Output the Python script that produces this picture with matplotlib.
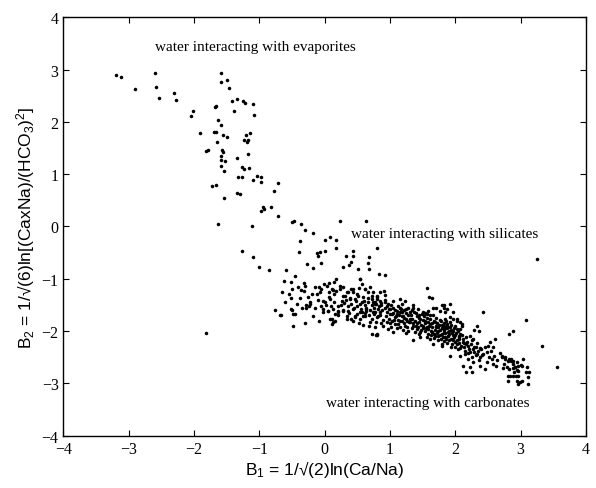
import numpy as np
import matplotlib
matplotlib.use("Agg")
import matplotlib.pyplot as plt

# pontos (B1, B2)
# ramo superior - agua com evaporitos
evaporitos = [
    (-3.20, 2.90), (-3.12, 2.86), (-2.60, 2.93), (-2.90, 2.62), (-2.59, 2.66),
    (-2.53, 2.46), (-2.31, 2.56), (-2.27, 2.41), (-2.01, 2.20), (-2.05, 2.12),
    (-1.91, 1.78), (-1.68, 2.28), (-1.66, 2.31), (-1.58, 2.93), (-1.49, 2.81),
    (-1.59, 2.76), (-1.47, 2.65), (-1.42, 2.39), (-1.35, 2.43), (-1.25, 2.40),
    (-1.22, 2.37), (-1.09, 2.34), (-1.08, 2.13), (-1.39, 2.20), (-1.64, 2.03),
    (-1.59, 1.94), (-1.69, 1.81), (-1.66, 1.81), (-1.55, 1.75), (-1.49, 1.71),
    (-1.65, 1.62), (-1.21, 1.74), (-1.14, 1.79), (-1.24, 1.65), (-1.19, 1.62),
    (-1.18, 1.65), (-1.81, 1.45), (-1.78, 1.46), (-1.57, 1.47), (-1.55, 1.43),
    (-1.59, 1.35), (-1.58, 1.28), (-1.52, 1.25), (-1.59, 1.15), (-1.54, 1.07),
    (-1.35, 1.30), (-1.18, 1.39), (-1.26, 1.14), (-1.24, 1.10), (-1.16, 1.12),
    (-1.33, 0.95), (-1.26, 0.95), (-1.04, 0.97), (-1.09, 0.89), (-0.97, 0.94),
    (-0.97, 0.85), (-0.71, 0.83), (-0.77, 0.68), (-1.73, 0.78), (-1.67, 0.79),
    (-1.54, 0.55), (-1.35, 0.64), (-1.30, 0.62), (-0.95, 0.37), (-0.97, 0.30),
    (-0.93, 0.33), (-0.82, 0.38), (-0.71, 0.20), (-1.63, 0.05), (-1.12, 0.00),
]

# zona de transicao - agua com silicatos
silicatos = [
    (-0.50, 0.09), (-0.47, 0.11), (-0.37, 0.04), (-0.30, -0.07), (-0.18, -0.13),
    (0.24, 0.11), (0.64, 0.10), (-0.38, -0.27), (0.01, -0.26), (0.08, -0.21),
    (0.17, -0.26), (-0.39, -0.49), (-0.11, -0.50), (-0.07, -0.48), (-0.10, -0.56),
    (0.01, -0.46), (0.18, -0.42), (0.43, -0.47), (0.33, -0.57), (0.80, -0.42),
    (-1.26, -0.46), (-1.10, -0.59), (-1.01, -0.77), (-0.86, -0.83), (-0.59, -0.83),
    (-0.27, -0.72), (-0.18, -0.79), (-0.05, -0.70), (0.28, -0.77), (0.37, -0.73),
    (0.40, -0.68), (0.51, -0.81), (0.68, -0.58), (0.66, -0.69), (0.68, -0.82),
    (-1.81, -2.04), (-0.46, -0.94), (-0.51, -1.07), (-0.50, -1.20), (-0.41, -1.15),
    (-0.36, -1.21), (-0.32, -1.08), (-0.30, -1.13), (-0.51, -1.37), (-0.38, -1.37),
    (-0.31, -1.23), (-0.76, -1.60), (-0.69, -1.69), (-0.50, -1.59), (-0.45, -1.68),
    (-0.49, -1.90), (0.83, -0.91), (0.92, -0.93), (0.43, -0.56), (3.25, -0.62),
    (-0.25, -1.35), (-0.23, -1.45), (-0.28, -1.55), (-0.24, -1.52), (-0.67, -1.69),
    (-0.18, -1.72), (-0.08, -1.80), (-0.15, -1.16), (-0.08, -1.16), (-0.48, -1.67),
    (-0.51, -1.58), (-0.28, -1.51), (-0.23, -1.48), (-0.12, -1.29), (-0.05, -1.20),
    (-0.65, -1.25), (-0.60, -1.45), (-0.55, -1.30), (-0.42, -1.48), (-0.35, -1.55),
    (-0.20, -1.30), (-0.15, -1.55), (-0.10, -1.40), (-0.05, -1.52), (-0.62, -1.05),
    (-0.30, -1.85),
]

# faixa densa - agua com carbonatos
carbonatos = [
    (-0.01, -1.10), (0.07, -1.08), (0.14, -1.07), (-0.07, -1.26), (-0.03, -1.42),
    (0.00, -1.45), (0.08, -1.39), (0.07, -1.26), (0.12, -1.21), (0.18, -1.23),
    (0.23, -1.20), (0.28, -1.16), (0.36, -1.26), (0.40, -1.20), (0.44, -1.25),
    (0.54, -1.00), (0.57, -1.10), (0.53, -1.18), (-0.02, -1.58), (0.05, -1.62),
    (0.13, -1.57), (0.21, -1.63), (0.28, -1.59), (0.36, -1.62), (0.44, -1.58),
    (0.08, -1.77), (0.16, -1.80), (0.12, -1.83), (0.34, -1.77), (0.43, -1.80),
    (0.46, -1.74), (0.54, -1.77), (0.58, -1.71), (0.68, -1.91), (0.72, -2.06),
    (0.80, -2.08), (0.26, -1.42), (0.31, -1.32), (0.39, -1.37), (0.46, -1.38),
    (0.51, -1.32), (0.59, -1.35), (0.62, -1.20), (0.67, -1.26), (0.69, -1.16),
    (0.74, -1.26), (0.80, -1.32), (0.85, -1.26), (0.54, -1.48), (0.62, -1.51),
    (0.67, -1.45), (0.72, -1.51), (0.77, -1.48), (0.82, -1.58), (0.64, -1.61),
    (0.74, -1.64), (0.82, -1.71), (0.57, -1.63), (0.50, -1.67), (1.56, -1.18),
    (1.60, -1.34), (1.64, -1.37), (1.15, -1.39), (1.23, -1.43), (0.91, -1.23),
    (0.92, -1.31), (1.35, -1.55), (1.43, -1.58), (1.51, -1.63), (1.59, -1.61),
    (1.66, -1.56), (1.71, -1.55), (1.76, -1.61), (1.84, -1.63), (1.92, -1.74),
    (1.97, -1.77), (2.02, -1.80), (0.72, -1.39), (0.77, -1.45), (0.80, -1.35),
    (0.85, -1.42), (0.87, -1.51), (0.92, -1.45), (0.97, -1.48), (1.00, -1.58),
    (1.05, -1.55), (1.10, -1.61), (1.03, -1.67), (1.08, -1.74), (1.15, -1.64),
    (1.20, -1.71), (1.25, -1.77), (1.18, -1.80), (1.13, -1.86), (1.23, -1.90),
    (1.31, -1.83), (1.36, -1.90), (1.28, -1.99), (1.41, -1.96), (1.46, -2.02),
    (1.51, -1.90), (1.59, -1.96), (1.64, -2.02), (1.69, -2.09), (1.74, -1.99),
    (1.79, -2.06), (1.84, -2.12), (1.89, -2.02), (1.94, -2.15), (1.99, -2.21),
    (2.05, -2.12), (1.36, -2.18), (1.66, -2.25), (1.79, -2.28), (1.94, -2.31),
    (0.80, -1.74), (0.79, -2.07), (0.90, -1.90), (0.97, -1.96), (1.05, -2.02),
    (0.85, -1.64), (1.25, -1.58), (1.31, -1.64), (1.41, -1.71), (1.46, -1.77),
    (1.54, -1.80), (1.61, -1.77), (1.69, -1.83), (1.71, -1.90), (1.82, -1.90),
    (1.87, -1.86), (1.92, -1.93), (1.97, -1.99), (2.02, -1.96), (1.56, -2.12),
    (1.46, -2.12), (1.74, -2.18), (0.11, -1.20), (0.18, -1.00), (0.23, -1.13),
    (0.28, -1.32), (0.34, -1.26), (0.39, -1.39), (0.44, -1.20), (0.49, -1.29),
    (0.54, -1.00), (0.57, -1.45), (0.62, -1.20), (0.64, -1.58), (0.72, -1.32),
    (0.77, -1.64), (0.80, -1.39), (-0.02, -1.64), (0.05, -1.61), (0.11, -1.77),
    (0.16, -1.67), (0.21, -1.61), (0.28, -1.61), (0.34, -1.71), (0.41, -1.77),
    (0.46, -1.71), (0.54, -1.64), (0.62, -1.71), (0.69, -1.83), (0.77, -1.93),
    (0.80, -2.06), (0.11, -1.86), (0.03, -1.13), (1.79, -1.51), (1.82, -1.55),
    (2.07, -1.83), (2.10, -1.90), (1.82, -1.51), (1.87, -1.58), (1.92, -1.48),
    (1.97, -1.64), (2.02, -1.77), (1.84, -1.77), (1.92, -1.83), (1.99, -1.90),
    (2.07, -1.96), (1.82, -2.02), (1.89, -2.09), (1.97, -2.15), (2.05, -2.09),
    (2.10, -1.86), (2.12, -2.21), (1.79, -2.25), (2.22, -2.09), (2.27, -2.15),
    (2.17, -2.25), (2.42, -1.64), (2.33, -1.90), (2.37, -1.99), (2.29, -1.97),
    (2.61, -2.15), (2.53, -2.21), (2.50, -2.28), (2.58, -2.31), (2.68, -2.41),
    (2.71, -2.47), (2.76, -2.50), (2.81, -2.57), (2.86, -2.53), (2.88, -2.63),
    (2.94, -2.60), (2.91, -2.69), (2.96, -2.76), (2.84, -2.86), (2.89, -2.85),
    (2.27, -2.34), (2.33, -2.44), (2.38, -2.50), (2.43, -2.44), (2.48, -2.60),
    (2.56, -2.53), (2.58, -2.63), (2.63, -2.66), (2.45, -2.72), (2.38, -2.66),
    (2.27, -2.60), (2.22, -2.69), (2.12, -2.66), (2.20, -2.53), (2.15, -2.44),
    (2.07, -2.47), (1.92, -2.47), (2.25, -2.79), (2.17, -2.79), (3.09, -1.79),
    (2.83, -2.05), (2.89, -2.00), (3.33, -2.28), (3.56, -2.68), (2.72, -2.49),
    (2.76, -2.53), (2.83, -2.53), (2.86, -2.58), (2.89, -2.57), (2.75, -2.63),
    (2.73, -2.71), (2.79, -2.69), (2.83, -2.72), (2.88, -2.71), (2.91, -2.69),
    (2.94, -2.74), (2.96, -2.66), (3.00, -2.64), (3.03, -2.53), (3.02, -2.66),
    (3.10, -2.69), (3.08, -2.79), (3.13, -2.79), (3.12, -2.88), (2.90, -2.78),
    (2.93, -2.85), (2.96, -2.85), (2.81, -2.86), (2.80, -2.95), (2.94, -2.95),
    (2.99, -2.98), (3.02, -2.95), (3.12, -3.01), (2.96, -3.01),
]

# nucleo da faixa densa (x de 0 a 2.4)
nucleo = [
    (0.60, -1.42), (0.63, -1.55), (0.66, -1.37), (0.70, -1.60), (0.61, -1.66),
    (0.68, -1.70), (0.74, -1.44), (0.76, -1.56), (0.79, -1.49), (0.83, -1.53),
    (0.86, -1.47), (0.88, -1.60), (0.75, -1.68), (0.84, -1.69), (0.89, -1.78),
    (0.78, -1.83), (0.87, -1.84), (0.72, -1.76), (0.93, -1.55), (0.95, -1.63),
    (0.98, -1.57), (1.02, -1.50), (1.05, -1.66), (1.08, -1.59), (0.94, -1.71),
    (0.99, -1.76), (1.03, -1.80), (1.07, -1.86), (0.96, -1.83), (1.01, -1.92),
    (1.09, -1.72), (0.92, -1.40), (1.04, -1.43), (1.12, -1.52), (1.14, -1.69),
    (1.17, -1.58), (1.19, -1.63), (1.22, -1.75), (1.24, -1.66), (1.27, -1.70),
    (1.29, -1.82), (1.12, -1.78), (1.16, -1.93), (1.21, -1.85), (1.26, -1.93),
    (1.18, -1.48), (1.28, -1.55), (1.24, -2.04), (1.32, -1.70), (1.34, -1.77),
    (1.37, -1.64), (1.39, -1.80), (1.42, -1.85), (1.44, -1.75), (1.47, -1.88),
    (1.49, -1.68), (1.33, -1.95), (1.38, -2.02), (1.43, -1.93), (1.48, -1.97),
    (1.35, -1.50), (1.45, -2.06), (1.52, -1.72), (1.54, -1.85), (1.57, -1.92),
    (1.59, -1.82), (1.62, -1.87), (1.64, -1.93), (1.67, -1.80), (1.69, -1.97),
    (1.53, -2.00), (1.58, -2.05), (1.63, -2.08), (1.68, -2.13), (1.56, -1.68),
    (1.66, -1.70), (1.61, -2.16), (1.72, -1.85), (1.74, -1.93), (1.77, -1.97),
    (1.79, -1.88), (1.82, -1.98), (1.84, -2.04), (1.87, -1.95), (1.89, -2.10),
    (1.73, -2.10), (1.78, -2.15), (1.83, -2.19), (1.88, -2.22), (1.76, -1.78),
    (1.86, -1.80), (1.91, -2.05), (1.93, -1.98), (1.96, -2.07), (1.98, -2.12),
    (2.01, -2.03), (2.03, -2.18), (2.06, -2.22), (2.08, -2.05), (1.95, -2.25),
    (2.00, -2.30), (2.04, -2.35), (2.09, -2.28), (2.12, -2.15), (2.14, -2.30),
    (2.18, -2.20), (2.21, -2.35), (2.24, -2.25), (2.28, -2.40), (2.31, -2.30),
    (2.35, -2.38), (2.19, -2.42), (2.26, -2.50), (2.36, -2.55), (2.40, -2.35),
    (0.02, -1.50), (0.06, -1.35), (0.10, -1.52), (0.15, -1.45), (0.20, -1.52),
    (0.25, -1.50), (0.30, -1.47), (0.35, -1.53), (0.40, -1.49), (0.45, -1.55),
    (0.50, -1.52), (0.55, -1.57), (0.14, -1.30), (0.32, -1.40), (0.48, -1.42),
    (0.20, -1.70), (0.38, -1.65), (0.52, -1.85), (0.58, -1.88),
]

# mancha mais escura entre x=1.2 e x=2.3
mancha = [
    (1.22, -1.60), (1.26, -1.80), (1.30, -1.76), (1.33, -1.60), (1.36, -1.85),
    (1.40, -1.66), (1.40, -1.90), (1.45, -1.70), (1.45, -1.82), (1.50, -1.78),
    (1.50, -1.95), (1.53, -1.66), (1.55, -1.95), (1.57, -1.75), (1.60, -1.90),
    (1.62, -1.70), (1.63, -2.00), (1.65, -1.85), (1.67, -2.05), (1.70, -1.75),
    (1.70, -1.93), (1.72, -2.03), (1.75, -1.88), (1.76, -2.08), (1.78, -1.80),
    (1.80, -1.95), (1.81, -2.12), (1.83, -1.85), (1.85, -1.95), (1.86, -2.15),
    (1.88, -1.90), (1.90, -2.00), (1.91, -2.18), (1.93, -1.88), (1.95, -2.03),
    (1.96, -2.18), (1.98, -1.95), (2.00, -2.08), (2.02, -2.25), (2.04, -2.00),
    (2.06, -2.15), (2.08, -2.32), (2.10, -2.08), (2.13, -2.22), (2.15, -2.38),
    (2.17, -2.12), (2.20, -2.28), (2.23, -2.40), (2.25, -2.18), (2.29, -2.30),
    (2.32, -2.45), (2.34, -2.22), (2.38, -2.32), (2.41, -2.45), (2.45, -2.30),
    (2.48, -2.40), (2.52, -2.50), (2.55, -2.38), (2.60, -2.47), (2.64, -2.55),
    (1.00, -1.68), (1.06, -1.78), (1.10, -1.68), (1.15, -1.80), (1.19, -1.72),
    (1.10, -1.95), (1.20, -1.98), (0.95, -1.52), (1.00, -1.85), (1.15, -1.55),
]

ticks = [-4, -3, -2, -1, 0, 1, 2, 3, 4]
rotulos = [
    ("water interacting with evaporites", -2.60, 3.45),
    ("water interacting with silicates", 0.41, -0.14),
    ("water interacting with carbonates", 0.02, -3.36),
]

plt.rcParams['mathtext.fontset'] = 'custom'
plt.rcParams['mathtext.rm'] = 'Liberation Sans'
plt.rcParams['mathtext.it'] = 'Liberation Sans:italic'

fig = plt.figure(figsize=(5.96, 4.89), dpi=100)
ax = fig.add_axes([0.1065, 0.107, 0.8765, 0.8556])

pontos = np.array(evaporitos + silicatos + carbonatos + nucleo + mancha)
ax.scatter(pontos[:, 0], pontos[:, 1], s=6.5, c='black', linewidths=0)

for texto, x, y in rotulos:
    ax.text(x, y, texto, family='Liberation Serif', fontsize=11, va='center')

ax.set_xlim(-4, 4)
ax.set_ylim(-4, 4)
ax.set_xticks(ticks)
ax.set_yticks(ticks)
ax.set_xticklabels([str(t).replace('-', '\u2212') for t in ticks], family='Liberation Serif', fontsize=11.5)
ax.set_yticklabels([str(t).replace('-', '\u2212') for t in ticks], family='Liberation Serif', fontsize=11.5)
ax.tick_params(direction='in', top=True, right=True, length=4, width=0.8)
for s in ax.spines.values():
    s.set_linewidth(1.0)

ax.set_xlabel('B$_1$ = 1/\u221a(2)ln(Ca/Na)', family='Liberation Sans', fontsize=12.5, labelpad=1)
ax.set_ylabel('B$_2$ = 1/\u221a(6)ln[(CaxNa)/(HCO$_3$)$^2$]', family='Liberation Sans', fontsize=12.5, labelpad=3)

fig.savefig('out.png', dpi=100)
